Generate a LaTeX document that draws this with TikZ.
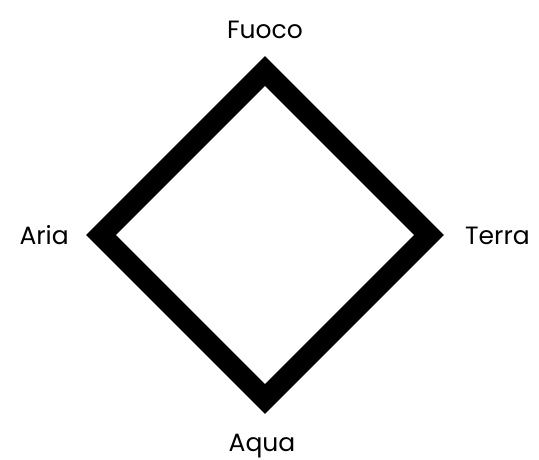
\documentclass[tikz,border=0pt]{standalone}
\usepackage{fontspec}
\setmainfont{Poppins}
\usepackage{tikz}
\usetikzlibrary{positioning,calc}

\begin{document}
\begin{tikzpicture}[x=1pt,y=-1pt,
    element/.style={font=\fontsize{25}{28}\selectfont, inner sep=0pt},
    rim/.style={line width=21pt, line join=miter}]
  \useasboundingbox (0,0) rectangle (539,460);
  % corners of the square, centre line of the stroke
  \coordinate (top) at (265,71);
  \coordinate (right) at (429,235);
  \coordinate (bottom) at (265,399);
  \coordinate (left) at (101,235);
  \draw[rim] (top) -- (right) -- (bottom) -- (left) -- cycle;
  % the four elements
  \node[element, anchor=base] (fuoco) at (265,39) {Fuoco};
  \node[element, anchor=base east] (aria) at (69,244) {Aria};
  \node[element, anchor=base west] (terra) at (465,244) {Terra};
  \node[element, anchor=base] (aqua) at (262,451) {Aqua};
\end{tikzpicture}
\end{document}
